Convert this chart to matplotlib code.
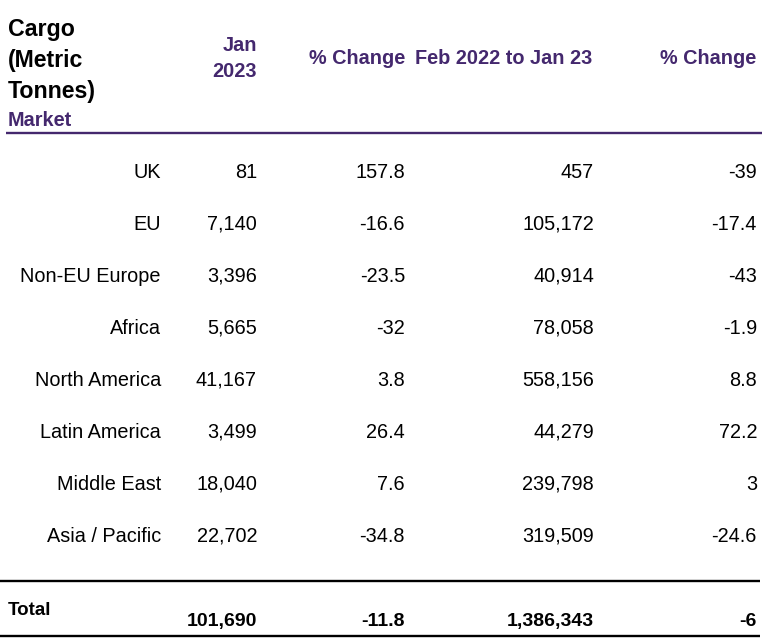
import matplotlib
matplotlib.use("Agg")
import matplotlib.pyplot as plt

PURPLE, INK = "#44286e", "#000000"
plt.rcParams.update({"font.family": ["Liberation Sans", "DejaVu Sans"]})

markets = ["UK", "EU", "Non-EU Europe", "Africa", "North America", "Latin America", "Middle East", "Asia / Pacific"]
jan_2023 = ["81", "7,140", "3,396", "5,665", "41,167", "3,499", "18,040", "22,702"]
pct_jan = ["157.8", "-16.6", "-23.5", "-32", "3.8", "26.4", "7.6", "-34.8"]
rolling = ["457", "105,172", "40,914", "78,058", "558,156", "44,279", "239,798", "319,509"]
pct_rolling = ["-39", "-17.4", "-43", "-1.9", "8.8", "72.2", "3", "-24.6"]
total = ["101,690", "-11.8", "1,386,343", "-6"]

fig = plt.figure(figsize=(7.68, 6.4), dpi=100)
ax = fig.add_axes([0, 0, 1, 1])
ax.set_xlim(0, 768); ax.set_ylim(640, 0); ax.axis("off")

# header block (y values are text baselines in pixels)
for i, t in enumerate(["Cargo", "(Metric", "Tonnes)"]):
    ax.text(8, 36 + i * 31, t, fontsize=16.7, fontweight="bold", color=INK, va="baseline", ha="left")
ax.text(8, 126, "Market", fontsize=14.3, fontweight="bold", color=PURPLE, va="baseline")
ax.text(257, 51, "Jan", fontsize=14.3, fontweight="bold", color=PURPLE, va="baseline", ha="right")
ax.text(257, 77, "2023", fontsize=14.3, fontweight="bold", color=PURPLE, va="baseline", ha="right")
for x, t in [(405, "% Change"), (592, "Feb 2022 to Jan 23"), (756, "% Change")]:
    ax.text(x, 64, t, fontsize=14.3, fontweight="bold", color=PURPLE, va="baseline", ha="right")
ax.plot([6, 762], [133, 133], color=PURPLE, lw=1.7, solid_capstyle="butt")

# body rows
cols = [(161, markets), (257, jan_2023), (405, pct_jan), (594, rolling), (757, pct_rolling)]
for r in range(len(markets)):
    y = 178 + r * 52
    for x, vals in cols:
        ax.text(x, y, vals[r], fontsize=14.3, color=INK, va="baseline", ha="right")

# total row
ax.plot([0, 760], [581, 581], color=INK, lw=1.7, solid_capstyle="butt")
ax.plot([0, 760], [636, 636], color=INK, lw=1.7, solid_capstyle="butt")
ax.text(8, 615, "Total", fontsize=13.5, fontweight="bold", color=INK, va="baseline")
for x, v in zip([257, 405, 594, 757], total):
    ax.text(x, 626, v, fontsize=14, fontweight="bold", color=INK, va="baseline", ha="right")

fig.savefig("out.png", dpi=100, facecolor="white")
